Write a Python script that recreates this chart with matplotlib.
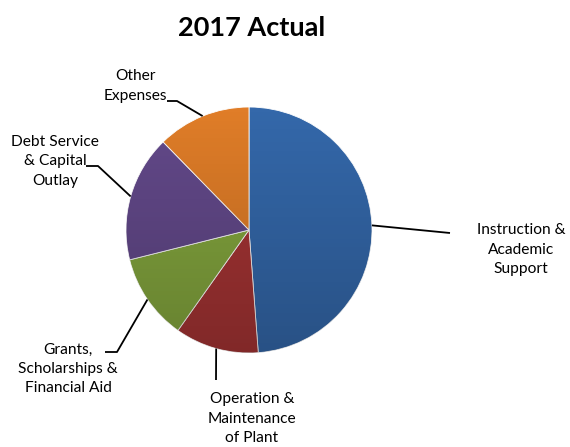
import numpy as np
import matplotlib
matplotlib.use('Agg')
import matplotlib.pyplot as plt
from matplotlib.patches import Circle

# Data (share of total, %)
labels = ['Instruction &\nAcademic\nSupport',
          'Operation &\nMaintenance\nof Plant',
          'Grants,\nScholarships &\nFinancial Aid',
          'Debt Service\n& Capital\nOutlay',
          'Other\nExpenses']
shares = [48.8, 11.0, 11.3, 16.6, 12.3]
colors = ['#3468AA', '#A53434', '#84A63E', '#63498A', '#E07D28']

W, H = 570, 447
plt.rcParams['font.family'] = ['Lato', 'DejaVu Sans']

fig = plt.figure(figsize=(W / 100, H / 100), dpi=100)
ax = fig.add_axes([0, 0, 1, 1])


def P(x, y):
    # pixel position measured from top-left -> data coords
    return x, H - y


cx, cy = P(249, 230)
r = 123
wedges, _ = ax.pie(shares, colors=colors, startangle=90, counterclock=False,
                   center=(cx, cy), radius=r, frame=True,
                   wedgeprops=dict(linewidth=0.6, edgecolor='white'))
ax.set_xlim(0, W)
ax.set_ylim(0, H)
ax.set_aspect('equal')
ax.axis('off')

# soft vertical shading over the pie (lighter top, darker bottom)
g = np.linspace(0, 1, 256)[:, None]
shade = np.zeros((256, 2, 4))
shade[..., 3] = (0.22 * g) * np.ones((1, 2))
img = ax.imshow(shade, extent=(cx - r, cx + r, cy - r, cy + r), origin='upper',
                zorder=2, interpolation='bilinear', aspect='auto')
img.set_clip_path(Circle((cx, cy), r, transform=ax.transData))
ax.set_xlim(0, W)
ax.set_ylim(0, H)

# label layout: text centre, elbow points of the leader line (pixels from top-left)
layout = [
    dict(text=(521, 250), path=[(450, 233)]),
    dict(text=(252, 419), path=[(216, 380)]),
    dict(text=(68, 369), path=[(117, 352), (105, 352)]),
    dict(text=(55, 161), path=[(98, 166), (86, 166)]),
    dict(text=(135, 86), path=[(177, 101), (167, 101)]),
]

for w, lab, lay in zip(wedges, labels, layout):
    mid = np.deg2rad((w.theta1 + w.theta2) / 2)
    ex, ey = cx + r * np.cos(mid), cy + r * np.sin(mid)
    pts = [(ex, ey)] + [P(*p) for p in lay['path']]
    ax.plot([p[0] for p in pts], [p[1] for p in pts], color='black', lw=1.3,
            solid_capstyle='butt', zorder=1)
    tx, ty = P(*lay['text'])
    ax.text(tx, ty, lab, ha='center', va='center', fontsize=11.2,
            linespacing=1.5, color='black')

tx, ty = P(252, 28)
ax.text(tx, ty, '2017 Actual', ha='center', va='center', fontsize=19.5,
        fontweight='bold')

fig.savefig('out.png', dpi=100)
